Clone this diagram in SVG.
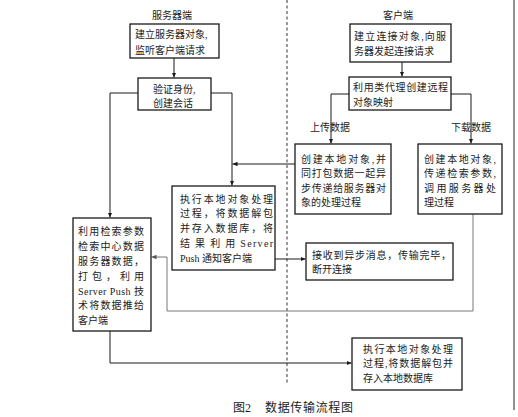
<svg xmlns="http://www.w3.org/2000/svg" width="518" height="417" viewBox="0 0 518 417">
<defs>
<style>
text{font-family:"Liberation Serif","Noto Sans CJK SC",serif;font-size:10px;fill:#222;}
.box{fill:#fff;stroke:#1a1a1a;stroke-width:1.3;}
.ln{fill:none;stroke:#1a1a1a;stroke-width:1;}
.gr{fill:none;stroke:#777;stroke-width:1;}
.title{font-size:10px;}
.cap{font-size:12px;}
</style>
<marker id="ah" markerUnits="userSpaceOnUse" markerWidth="6" markerHeight="6" refX="5" refY="3" orient="auto">
<path d="M0,0.8 L5,3 L0,5.2 z" fill="#1a1a1a"/>
</marker>
<marker id="ahg" markerUnits="userSpaceOnUse" markerWidth="6" markerHeight="6" refX="5" refY="3" orient="auto">
<path d="M0,0.8 L5,3 L0,5.2 z" fill="#555"/>
</marker>
</defs>
<rect width="518" height="417" fill="#fff"/>
<line x1="287" y1="0" x2="287" y2="385" stroke="#333" stroke-width="1" stroke-dasharray="3,2.5"/>
<line x1="514" y1="0" x2="514" y2="410" stroke="#222" stroke-width="1"/>
<text class="title" x="172" y="18.8" text-anchor="middle">服务器端</text>
<text class="title" x="398" y="18.8" text-anchor="middle">客户端</text>

<g id="connectors">
<path class="ln" d="M174,58 V77.5" marker-end="url(#ah)"/>
<path class="ln" d="M138,93 H110 V217.5" marker-end="url(#ah)"/>
<path class="ln" d="M211,93 H232 V185.5" marker-end="url(#ah)"/>
<path class="ln" d="M295,164 H232.5" marker-end="url(#ah)"/>
<path class="ln" d="M402,62 V76.5" marker-end="url(#ah)"/>
<path class="ln" d="M349,94 H331 V143.5" marker-end="url(#ah)"/>
<path class="ln" d="M451,94 H471 V143.5" marker-end="url(#ah)"/>
<path class="ln" d="M275,259 H305.5" marker-end="url(#ah)"/>
<path class="gr" d="M473,214 V311 H167 V257 H151.5" marker-end="url(#ahg)"/>
<path class="ln" d="M110,331 V363 H351.5" marker-end="url(#ah)"/>
<text x="330" y="130.8" text-anchor="middle">上传数据</text>
<text x="471" y="130.8" text-anchor="middle">下载数据</text>
</g>

<g id="s1">
<rect class="box" x="130" y="24" width="89" height="34"/>
<text x="135" y="38">建立服务器对象,</text>
<text x="135" y="53.8">监听客户端请求</text>
</g>
<g id="s2">
<rect class="box" x="138" y="78" width="73" height="32"/>
<text x="153" y="92.8">验证身份,</text>
<text x="153" y="106.8">创建会话</text>
</g>
<g id="s3">
<rect class="box" x="172" y="186" width="103" height="84"/>
<text x="180" y="202.8" textLength="93" lengthAdjust="spacing">执行本地对象处理</text>
<text x="180" y="217.3" textLength="93" lengthAdjust="spacing">过程，将数据解包</text>
<text x="180" y="231.8" textLength="93" lengthAdjust="spacing">并存入数据库，将</text>
<text x="180" y="246.8" textLength="93" lengthAdjust="spacing">结 果 利 用 Server</text>
<text x="180" y="261.8">Push 通知客户端</text>
</g>
<g id="s4">
<rect class="box" x="73" y="218" width="78" height="113"/>
<text x="78" y="234.8" textLength="66" lengthAdjust="spacing">利用检索参数</text>
<text x="78" y="249.8" textLength="66" lengthAdjust="spacing">检索中心数据</text>
<text x="78" y="264.8" textLength="66" lengthAdjust="spacing">服务器数据，</text>
<text x="78" y="279.8" textLength="66" lengthAdjust="spacing">打 包 ， 利 用</text>
<text x="78" y="294.8" textLength="66" lengthAdjust="spacing">Server Push 技</text>
<text x="78" y="308.8" textLength="66" lengthAdjust="spacing">术将数据推给</text>
<text x="78" y="323.8">客户端</text>
</g>
<g id="c1">
<rect class="box" x="350" y="24" width="101" height="38"/>
<text x="354" y="39.8" textLength="92" lengthAdjust="spacing">建立连接对象,向服</text>
<text x="354" y="54.8">务器发起连接请求</text>
</g>
<g id="c2">
<rect class="box" x="349" y="77" width="102" height="33"/>
<text x="353" y="90.8" textLength="95" lengthAdjust="spacing">利用类代理创建远程</text>
<text x="353" y="105.8">对象映射</text>
</g>
<g id="c3">
<rect class="box" x="295" y="144" width="96" height="70"/>
<text x="301" y="162.8" textLength="85" lengthAdjust="spacing">创建本地对象,并</text>
<text x="301" y="177.3" textLength="85" lengthAdjust="spacing">同打包数据一起异</text>
<text x="301" y="191.8" textLength="85" lengthAdjust="spacing">步传递给服务器对</text>
<text x="301" y="205.8">象的处理过程</text>
</g>
<g id="c4">
<rect class="box" x="418" y="144" width="84" height="70"/>
<text x="424" y="162.8" textLength="72" lengthAdjust="spacing">创建本地对象,</text>
<text x="424" y="177.3" textLength="72" lengthAdjust="spacing">传递检索参数,</text>
<text x="424" y="191.8" textLength="72" lengthAdjust="spacing">调用服务器处</text>
<text x="424" y="205.8">理过程</text>
</g>
<g id="c5">
<rect class="box" x="306" y="243" width="147" height="37"/>
<text x="312" y="258.8" textLength="139" lengthAdjust="spacing">接收到异步消息，传输完毕，</text>
<text x="312" y="272.8">断开连接</text>
</g>
<g id="c6">
<rect class="box" x="352" y="338" width="110" height="52"/>
<text x="363" y="352.8" textLength="90" lengthAdjust="spacing">执行本地对象处理</text>
<text x="363" y="366.8" textLength="90" lengthAdjust="spacing">过程,将数据解包并</text>
<text x="363" y="381.8">存入本地数据库</text>
</g>
<text class="cap" x="233" y="411.5">图2</text>
<text class="cap" x="265" y="411.5" textLength="88" lengthAdjust="spacing">数据传输流程图</text>
</svg>
